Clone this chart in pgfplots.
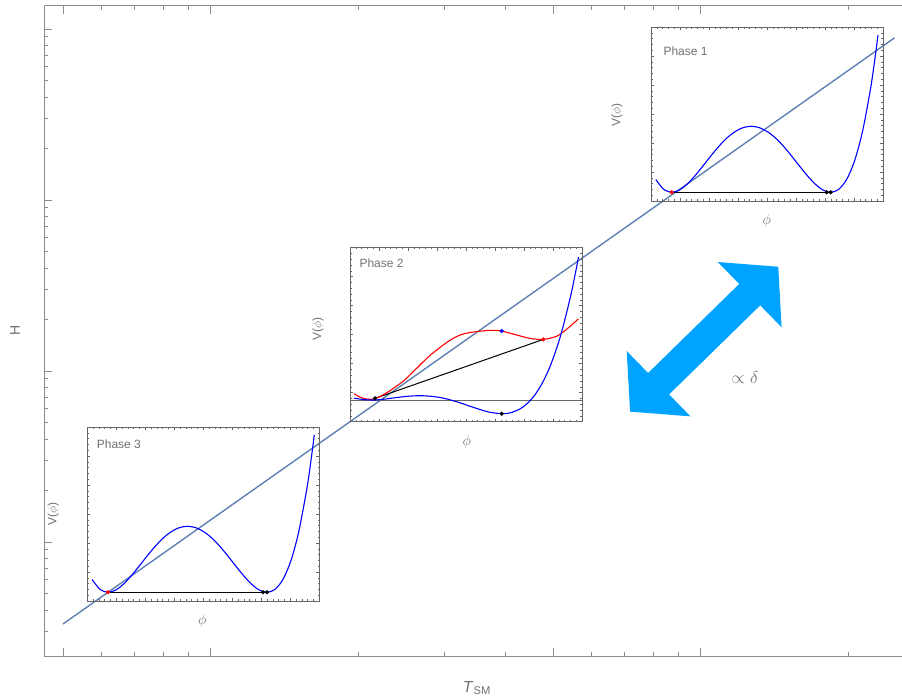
\documentclass[border=0pt]{standalone}
\usepackage{fontspec}
\setmainfont{Liberation Sans}
\usepackage{pgfplots}
\pgfplotsset{compat=1.18}
\usetikzlibrary{arrows.meta}

\definecolor{framegray}{HTML}{8C8C8C}
\definecolor{insetgray}{HTML}{666666}
\definecolor{textgray}{HTML}{707070}
\definecolor{lineblue}{HTML}{5E81B5}
\definecolor{arrowblue}{HTML}{00A3FF}

\pgfplotsset{
  inset/.style={
    scale only axis, width=232pt, height=174pt, anchor=south west,
    xmin=0, xmax=232, ymin=0, ymax=174,
    xtick distance=29, ytick distance=29,
    minor x tick num=4, minor y tick num=4,
    xticklabels={}, yticklabels={},
    axis line style={insetgray, line width=0.9pt},
    tick style={insetgray, line width=0.5pt},
    major tick length=3pt, minor tick length=1.6pt,
    clip=false,
  },
  pot/.style={line width=1.1pt, smooth},
  dot/.style={only marks, mark=*, mark size=1.9pt},
}
\tikzset{
  lab/.style={textgray, font=\fontsize{12}{14}\selectfont},
  phi/.style={textgray, font=\fontsize{14}{16}\selectfont},
  ttl/.style={textgray, font=\fontsize{12}{14}\selectfont, anchor=west},
}

\begin{document}
\begin{tikzpicture}
\useasboundingbox (-44pt,-41pt) rectangle (858pt,656pt);

% main frame: H against T_SM, log-log
\begin{axis}[
    at={(0pt,0pt)}, anchor=south west,
    scale only axis, width=861pt, height=650pt,
    xmode=log, ymode=log,
    xmin=0.9146, xmax=52.3, ymin=0.2154, ymax=1363,
    xtick={1,2,10,20},
    minor xtick={1.2,1.4,1.6,1.8,4,6,8,12,14,16,18,40},
    ytick={1,10,100,1000},
    minor ytick={0.3,0.4,0.5,0.6,0.7,0.8,0.9,2,3,4,5,6,7,8,9,
                 20,30,40,50,60,70,80,90,200,300,400,500,600,700,800,900},
    ytick pos=left,
    xticklabels={}, yticklabels={},
    axis line style={framegray, line width=1pt},
    tick style={framegray, line width=0.9pt},
    major tick length=8.5pt, minor tick length=4.5pt,
]
\addplot[lineblue, line width=1.4pt] coordinates {(1,0.3315) (49.8,888)};
\end{axis}

% Phase 3
\begin{axis}[inset, at={(43.3pt,55pt)}]
\addplot[black, line width=1pt] coordinates {(20.7,8.7) (179.7,8.7)};
\addplot[blue, pot] coordinates {
(4.8,21.5) (12.75,11.6) (20.7,8.7) (28.65,11.1) (36.6,17.3) (44.55,25.9)
(52.5,35.7) (60.45,45.8) (68.4,55.3) (76.35,63.4) (84.3,69.5) (92.25,73.4)
(100.2,74.7) (108.15,73.4) (116.1,69.5) (124.05,63.4) (132.0,55.3) (139.95,45.8)
(147.9,35.7) (155.85,25.9) (163.8,17.3) (171.75,11.1) (179.7,8.7) (187.65,11.6)
(195.6,21.5) (203.55,40.1) (211.5,69.5) (219.45,111.8) (223.4,138.5) (227.0,166.0)};
\addplot[dot, red] coordinates {(20.7,8.7)};
\addplot[dot, black] coordinates {(175.7,8.7) (179.7,8.7)};
\node[ttl] at (axis cs:6,156.5) {Phase 3};
\node[lab, rotate=90] at (axis cs:-34,86.7) {V($\phi$)};
\node[phi] at (axis cs:115,-20) {$\phi$};
\end{axis}

% Phase 2
\begin{axis}[inset, at={(306pt,234.3pt)}]
\addplot[insetgray, line width=0.9pt] coordinates {(0,21.3) (232,21.3)};
\addplot[black, line width=1pt] coordinates {(25,23.3) (193.3,82.3)};
\addplot[red, pot] coordinates {
(4,28.0) (10,24.6) (16,22.8) (21,22.4) (26,23.4) (33,26.8) (40,31) (47,36)
(53.3,40.5) (61.7,48.5) (70,56.7) (78,64.5) (86.7,71.7) (95,78) (103.3,83.4)
(111,87) (120,89.2) (136.7,91.2) (145,91.3) (152,90.6) (166.7,86.7) (180,83.3)
(193.3,82.3) (206.7,85.5) (216.7,92.5) (228.3,102.7)};
\addplot[blue, pot] coordinates {
(4,23.6) (10,22.6) (15,22.0) (22,21.7) (28,21.9) (35,22.6) (50,24.6) (60,25.6)
(70,26.0) (80,25.5) (90,24.2) (100,21.9) (110,18.9) (120,15.5) (130,12.2)
(140,9.4) (152,8.0) (160,8.8) (170,12.8) (178,18.9) (185,27.0) (192,38.1)
(200,55.1) (210,84.0) (220,122.9) (225,146.6) (228.5,164.5)};
\addplot[dot, blue] coordinates {(151.7,90.6)};
\addplot[dot, red] coordinates {(193.3,82.3)};
\addplot[dot, black] coordinates {(25,23.3) (151.7,8.0)};
\node[ttl] at (axis cs:6,158) {Phase 2};
\node[lab, rotate=90] at (axis cs:-32,93) {V($\phi$)};
\node[phi] at (axis cs:116.7,-20) {$\phi$};
\end{axis}

% Phase 1
\begin{axis}[inset, at={(607pt,455pt)}]
\addplot[black, line width=1pt] coordinates {(20.7,8.7) (179.7,8.7)};
\addplot[blue, pot] coordinates {
(4.8,21.5) (12.75,11.6) (20.7,8.7) (28.65,11.1) (36.6,17.3) (44.55,25.9)
(52.5,35.7) (60.45,45.8) (68.4,55.3) (76.35,63.4) (84.3,69.5) (92.25,73.4)
(100.2,74.7) (108.15,73.4) (116.1,69.5) (124.05,63.4) (132.0,55.3) (139.95,45.8)
(147.9,35.7) (155.85,25.9) (163.8,17.3) (171.75,11.1) (179.7,8.7) (187.65,11.6)
(195.6,21.5) (203.55,40.1) (211.5,69.5) (219.45,111.8) (223.4,138.5) (227.0,166.0)};
\addplot[dot, red] coordinates {(20.7,8.7)};
\addplot[dot, black] coordinates {(175.7,8.7) (179.7,8.7)};
\node[ttl] at (axis cs:9,149.6) {Phase 1};
\node[lab, rotate=90] at (axis cs:-34,86) {V($\phi$)};
\node[phi] at (axis cs:115.7,-19.5) {$\phi$};
\end{axis}

% double arrow and its label
\draw[arrowblue, line width=30pt,
  {Triangle[width=89pt,length=40pt]}-{Triangle[width=89pt,length=40pt]}]
  (586pt,244.3pt) -- (734.3pt,389.3pt);
\node[textgray, font=\fontsize{18}{20}\selectfont] at (701pt,278.7pt) {$\propto$ $\delta$};

% axis labels
\node[textgray, rotate=90, font=\fontsize{14}{16}\selectfont] at (-29pt,325.3pt) {H};
\node[textgray, font=\fontsize{16}{18}\selectfont] at (433pt,-32pt) {\textit{T}\textsubscript{SM}};
\end{tikzpicture}
\end{document}
